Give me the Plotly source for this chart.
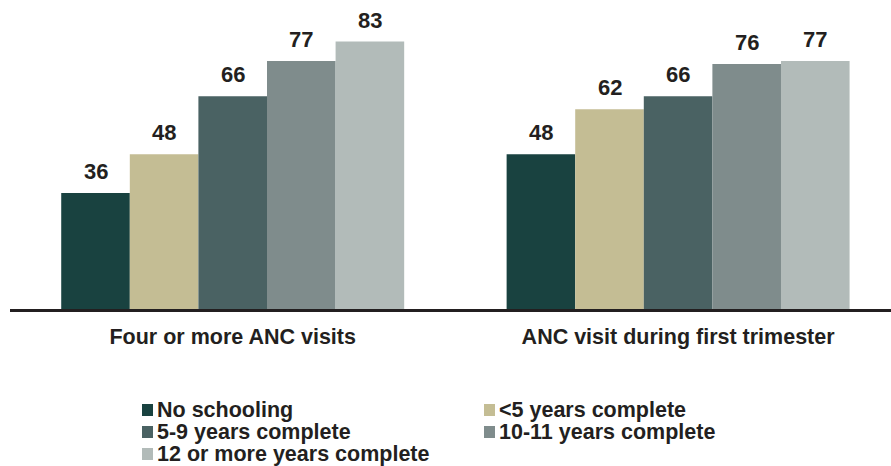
import plotly.graph_objects as go

# Antenatal care indicators by mother's schooling (percent)
indicators = ["Four or more ANC visits", "ANC visit during first trimester"]
schooling = [
    "No schooling",
    "<5 years complete",
    "5-9 years complete",
    "10-11 years complete",
    "12 or more years complete",
]
no_schooling = [36, 48]
lt5_years = [48, 62]
y5_9 = [66, 66]
y10_11 = [77, 76]
y12_plus = [83, 77]
series_values = [no_schooling, lt5_years, y5_9, y10_11, y12_plus]
colors = ["#194240", "#c4bd94", "#4a6263", "#7f8c8c", "#b2bbb9"]

W, H = 891, 466
M_L, M_R, M_T, M_B = 10, 0, 19, 157
BARGAP = 0.23
FONT = "Liberation Sans, Arial, Helvetica, sans-serif"
TEXT_COLOR = "#231f20"

fig = go.Figure()
for name, vals, col in zip(schooling, series_values, colors):
    fig.add_trace(go.Bar(
        x=list(range(len(indicators))), y=vals, name=name,
        marker=dict(color=col, line=dict(width=0)),
        showlegend=False, hoverinfo="skip",
    ))

# value labels above each bar, placed in data coordinates
n = len(schooling)
bw = (1 - BARGAP) / n
annotations = []
for si, vals in enumerate(series_values):
    for gi, v in enumerate(vals):
        annotations.append(dict(
            x=gi + (si - (n - 1) / 2) * bw, y=v, xref="x", yref="y",
            text=f"<b>{v}</b>", showarrow=False, yanchor="bottom", yshift=7,
            font=dict(family=FONT, size=22, color=TEXT_COLOR),
        ))

# legend built from swatches + labels, laid out in two columns
plot_w = W - M_L - M_R
plot_h = H - M_T - M_B


def px_x(px):
    return (px - M_L) / plot_w


def px_y(py):
    return (H - M_B - py) / plot_h


col_x = [142, 484]
row_y = [410, 432, 454]
shapes = []
for i, (name, col) in enumerate(zip(schooling, colors)):
    cx = col_x[i % 2]
    cy = row_y[i // 2]
    shapes.append(dict(
        type="rect", xref="paper", yref="paper",
        x0=px_x(cx), x1=px_x(cx + 11), y0=px_y(cy - 6), y1=px_y(cy + 6),
        fillcolor=col, line=dict(width=0),
    ))
    annotations.append(dict(
        x=px_x(cx + 13), y=px_y(cy), xref="paper", yref="paper",
        text=f"<b>{name}</b>", showarrow=False, xanchor="left", yanchor="middle",
        font=dict(family=FONT, size=21.5, color=TEXT_COLOR),
    ))

fig.update_layout(
    width=W, height=H,
    margin=dict(l=M_L, r=M_R, t=M_T, b=M_B, pad=0),
    paper_bgcolor="white", plot_bgcolor="white",
    barmode="group", bargap=BARGAP, bargroupgap=0,
    showlegend=False,
    xaxis=dict(
        tickmode="array", tickvals=list(range(len(indicators))),
        ticktext=[f"<b>{t}</b>" for t in indicators],
        range=[-0.5, 1.478],
        showline=True, linecolor=TEXT_COLOR, linewidth=3,
        ticks="outside", ticklen=6, tickcolor="rgba(0,0,0,0)",
        tickfont=dict(family=FONT, size=21.5, color=TEXT_COLOR),
        showgrid=False, zeroline=False, fixedrange=True,
    ),
    yaxis=dict(
        range=[0, 90], visible=False, showgrid=False, zeroline=False,
    ),
    annotations=annotations,
    shapes=shapes,
)

fig.write_html("out.html")
